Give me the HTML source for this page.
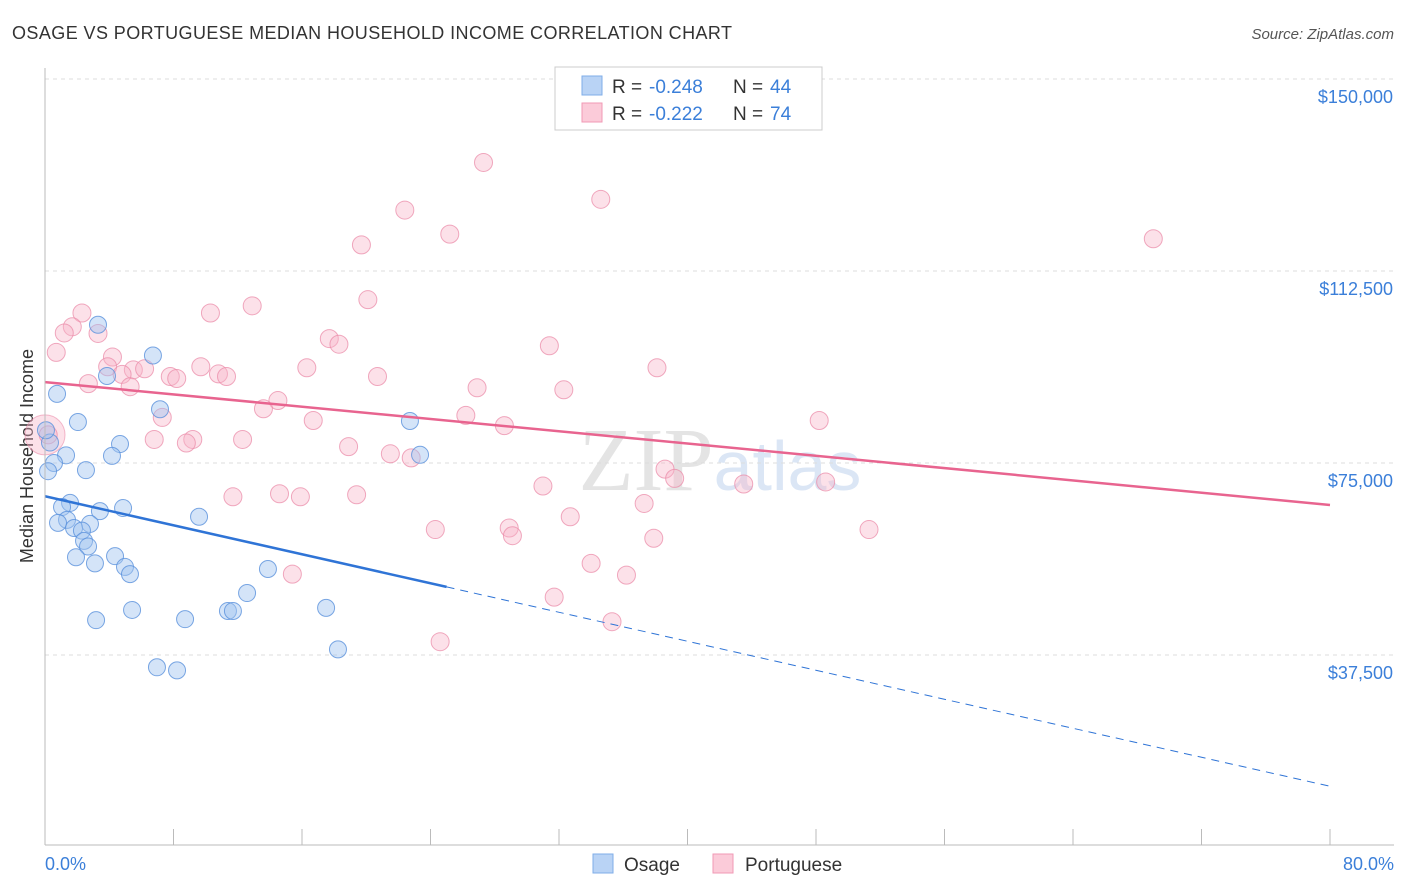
<!DOCTYPE html>
<html><head><meta charset="utf-8"><style>
body{margin:0;background:#fff;font-family:"Liberation Sans",sans-serif}
svg{display:block}
</style></head><body>
<svg width="1406" height="892" id="chart">
<text x="12" y="39" font-size="18" fill="#333" textLength="720">OSAGE VS PORTUGUESE MEDIAN HOUSEHOLD INCOME CORRELATION CHART</text>
<text x="1394" y="39" font-size="15" fill="#555" font-style="italic" text-anchor="end">Source: ZipAtlas.com</text>
<text x="33" y="456" font-size="18" fill="#333" text-anchor="middle" transform="rotate(-90 33 456)">Median Household Income</text>
<text x="720" y="490" font-size="90" fill="#e4e4e4" text-anchor="middle" font-family="Liberation Serif,serif">ZIP<tspan fill="#dbe6f5" font-family="Liberation Sans,sans-serif" font-size="70">atlas</tspan></text>
<g id="grid"></g><g id="pts"></g><g id="lines"></g>
<line x1="45" y1="845" x2="1394" y2="845" stroke="#bbb"/>
<line x1="45" y1="68" x2="45" y2="845" stroke="#bbb"/>
<text x="45" y="870" font-size="18" fill="#3b7fd9">0.0%</text>
<text x="1394" y="870" font-size="18" fill="#3b7fd9" text-anchor="end">80.0%</text>
<g>
<rect x="555" y="67" width="267" height="63" fill="#fff" stroke="#ccc"/>
<rect x="582" y="76" width="20" height="19" fill="#b9d3f5" stroke="#7faee8"/>
<rect x="582" y="103" width="20" height="19" fill="#fbcbd9" stroke="#f09ab5"/>
<text x="612" y="93" font-size="19" fill="#333">R =</text>
<text x="649" y="93" font-size="19" fill="#3b7fd9">-0.248</text>
<text x="733" y="93" font-size="19" fill="#333">N =</text>
<text x="770" y="93" font-size="19" fill="#3b7fd9">44</text>
<text x="612" y="120" font-size="19" fill="#333">R =</text>
<text x="649" y="120" font-size="19" fill="#3b7fd9">-0.222</text>
<text x="733" y="120" font-size="19" fill="#333">N =</text>
<text x="770" y="120" font-size="19" fill="#3b7fd9">74</text>
</g>
<g>
<rect x="593" y="854" width="20" height="19" fill="#b9d3f5" stroke="#7faee8"/>
<text x="624" y="871" font-size="19" fill="#333">Osage</text>
<rect x="713" y="854" width="20" height="19" fill="#fbcbd9" stroke="#f09ab5"/>
<text x="745" y="871" font-size="19" fill="#333">Portuguese</text>
</g>
</svg>
<script>
const yTicks=[150000,112500,75000,37500];
const yTickLabels=["$150,000","$112,500","$75,000","$37,500"];
const osageX=[3.30,6.72,0.75,3.86,7.16,2.05,4.67,4.17,0.31,1.31,0.56,2.55,0.19,1.56,1.06,4.86,3.42,9.59,1.37,0.81,2.80,1.81,2.30,2.43,2.68,1.93,4.36,3.11,4.98,5.29,13.88,12.58,5.42,17.50,11.39,11.70,3.18,8.72,18.24,6.97,8.22,22.72,23.35,0.06];
const osageY=[102000,96000,88500,92000,85500,83000,78700,76400,79000,76500,75000,73600,73400,67200,66400,66200,65600,64500,63900,63300,63100,62300,61800,59800,58700,56600,56800,55400,54700,53300,54300,49600,46300,46700,46100,46100,44300,44500,38600,35100,34500,83200,76600,81400];
const portX=[27.3,34.6,22.4,25.2,19.7,69.0,20.1,12.9,10.3,2.3,1.7,1.2,3.3,0.7,17.7,18.3,31.4,4.2,38.1,5.5,6.2,3.9,9.7,10.8,11.3,16.3,20.7,4.8,7.8,8.2,2.7,5.3,26.9,32.3,14.5,13.6,7.3,16.7,26.2,48.2,28.6,6.8,9.2,8.8,12.3,18.9,21.5,22.8,0.2,38.6,39.2,43.5,48.6,31.0,11.7,14.6,15.9,19.4,37.3,32.7,24.3,28.9,29.1,37.9,51.3,34.0,36.2,15.4,31.7,35.3,24.6];
const portY=[133700,126500,124400,119700,117600,118800,106900,105700,104300,104300,101600,100400,100300,96600,99300,98200,97900,95700,93600,93200,93400,93800,93800,92400,91900,93600,91900,92300,91900,91500,90500,89900,89700,89300,87200,85600,83900,83300,84300,83300,82300,79600,79600,78900,79600,78200,76800,76000,80500,73800,72000,70900,71300,70500,68400,69000,68400,68800,67100,64500,62000,62300,60800,60300,62000,55400,53100,53300,48800,44000,40100];
const X=v=>45+v/80*1285, Y=v=>79+(150000-v)/37500*192;
const NS="http://www.w3.org/2000/svg";
const grid=document.getElementById('grid'),pts=document.getElementById('pts'),lines=document.getElementById('lines');
function mk(tag,attrs,parent){const e=document.createElementNS(NS,tag);for(const k in attrs)e.setAttribute(k,attrs[k]);parent.appendChild(e);return e;}
yTicks.forEach((t,i)=>{
 const g=mk('line',{x1:45,x2:1394,y1:Y(t),y2:Y(t),stroke:'#ddd','stroke-dasharray':'4,4'},grid);
 
 
 const l=mk('text',{x:1393,y:Y(t)+24,'font-size':18,fill:'#3b7fd9','text-anchor':'end'},grid);
 l.textContent=yTickLabels[i];
 
 
});
for(let i=0;i<=10;i++){const t=mk('line',{x1:X(i*8),x2:X(i*8),y1:829,y2:845,stroke:'#bbb'},grid);
 
 }
const bp=mk('circle',{cx:X(0),cy:Y(80500),r:20,fill:'rgba(248,180,200,0.4)',stroke:'rgba(235,140,170,0.6)'},pts);


portX.forEach((x,i)=>{const c=mk('circle',{cx:X(x),cy:Y(portY[i]),r:9,fill:'rgba(248,180,200,0.4)',stroke:'rgba(235,140,170,0.75)'},pts);
 
 });
osageX.forEach((x,i)=>{const c=mk('circle',{cx:X(x),cy:Y(osageY[i]),r:8.5,fill:'rgba(160,195,240,0.45)',stroke:'rgba(90,145,220,0.8)'},pts);
 
 });
const os=-(68500-50800)/25, ol=25;
const l1=mk('line',{x1:X(0),y1:Y(68500),x2:X(ol),y2:Y(68500+os*ol),stroke:'#2f74d6','stroke-width':2.5},lines);


const l2=mk('line',{x1:X(ol),y1:Y(68500+os*ol),x2:X(80),y2:Y(68500+os*80),stroke:'#2f74d6','stroke-width':1,'stroke-dasharray':'8,6'},lines);


const l3=mk('line',{x1:X(0),y1:Y(90800),x2:X(80),y2:Y(66800),stroke:'#e8648f','stroke-width':2.5},lines);


</script>
</body></html>
